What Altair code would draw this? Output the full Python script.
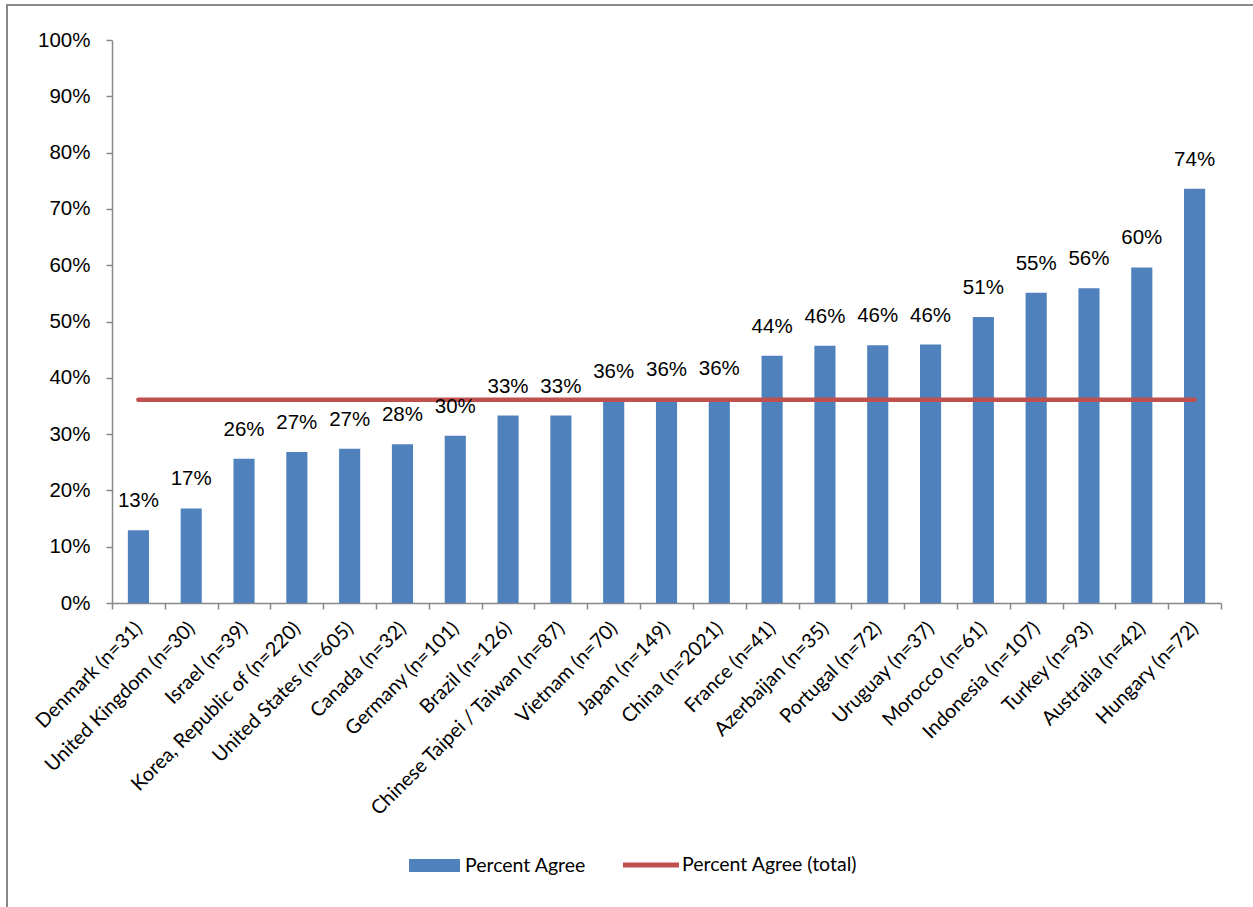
import altair as alt
import pandas as pd

# Share of respondents who agree, by country (sorted ascending)
countries = [
    "Denmark (n=31)",
    "United Kingdom (n=30)",
    "Israel (n=39)",
    "Korea, Republic of (n=220)",
    "United States (n=605)",
    "Canada (n=32)",
    "Germany (n=101)",
    "Brazil (n=126)",
    "Chinese Taipei / Taiwan (n=87)",
    "Vietnam (n=70)",
    "Japan (n=149)",
    "China (n=2021)",
    "France (n=41)",
    "Azerbaijan (n=35)",
    "Portugal (n=72)",
    "Uruguay (n=37)",
    "Morocco (n=61)",
    "Indonesia (n=107)",
    "Turkey (n=93)",
    "Australia (n=42)",
    "Hungary (n=72)",
]
percent_agree = [
    0.129, 0.168, 0.256, 0.268, 0.274, 0.282, 0.297, 0.333, 0.333, 0.359,
    0.363, 0.364, 0.439, 0.457, 0.458, 0.459, 0.508, 0.551, 0.559, 0.596, 0.736,
]
percent_agree_total = 0.361

bar_name = "Percent Agree"
line_name = "Percent Agree (total)"

df = pd.DataFrame({
    "country": countries,
    "agree": percent_agree,
    "total": [percent_agree_total] * len(countries),
    "bar_series": [bar_name] * len(countries),
    "line_series": [line_name] * len(countries),
})

AXIS_GRAY = "#888888"
BLUE = "#4f81bd"
RED = "#c0504d"

x_enc = alt.X(
    "country:N",
    sort=countries,
    scale=alt.Scale(paddingInner=0, paddingOuter=0),
    axis=alt.Axis(
        title=None,
        labelAngle=-45,
        labelAlign="right",
        labelBaseline="middle",
        labelFont="Lato",
        labelFontSize=19.8,
        labelColor="#000000",
        labelPadding=16,
        labelLimit=500,
        labelOverlap=False,
        tickBand="extent",
        tickSize=6,
        tickColor=AXIS_GRAY,
        domainColor=AXIS_GRAY,
        tickWidth=1.5,
        domainWidth=1.5,
    ),
)

y_axis = alt.Axis(
    title=None,
    format=".0%",
    values=[i / 10 for i in range(11)],
    grid=False,
    labelFont="Liberation Sans",
    labelFontSize=20.5,
    labelColor="#000000",
    labelPadding=16,
    tickSize=6,
    tickColor=AXIS_GRAY,
    domainColor=AXIS_GRAY,
    tickWidth=1.5,
    domainWidth=1.5,
)
y_scale = alt.Scale(domain=[0, 1])

base = alt.Chart(df)

# Outer gray frame around the chart
frame = alt.Chart(pd.DataFrame({"k": [0]})).mark_rect(
    filled=False, stroke=AXIS_GRAY, strokeWidth=2
).encode(
    x=alt.value(-105), x2=alt.value(1500),
    y=alt.value(-35), y2=alt.value(1200),
)

bars = base.mark_bar(width={"band": 0.4}).encode(
    x=x_enc,
    y=alt.Y("agree:Q", scale=y_scale, axis=y_axis),
    fill=alt.Fill(
        "bar_series:N",
        scale=alt.Scale(domain=[bar_name], range=[BLUE]),
        legend=alt.Legend(
            title=None,
            orient="none",
            legendX=297,
            legendY=800,
            padding=0,
            symbolType="M-1,-0.255L1,-0.255L1,0.255L-1,0.255Z",
            symbolSize=2601,
            symbolStrokeWidth=0,
            labelFont="Lato",
            labelFontSize=19.5,
            labelColor="#000000",
            labelOffset=5,
            labelLimit=400,
        ),
    ),
)

line = base.mark_line(strokeWidth=4.6, strokeCap="round").encode(
    x=alt.X("country:N", sort=countries, bandPosition=0.5),
    y=alt.Y("total:Q", scale=y_scale),
    stroke=alt.Stroke(
        "line_series:N",
        scale=alt.Scale(domain=[line_name], range=[RED]),
        legend=alt.Legend(
            title=None,
            orient="none",
            legendX=511,
            legendY=797,
            padding=0,
            symbolType="M-1,-0.09L1,-0.09L1,0.09L-1,0.09Z",
            symbolSize=3136,
            symbolStrokeWidth=0,
            symbolFillColor=RED,
            labelFont="Lato",
            labelFontSize=19.5,
            labelColor="#000000",
            labelOffset=3,
            labelLimit=400,
        ),
    ),
)

labels = base.mark_text(
    baseline="alphabetic", dy=-23, font="Liberation Sans", fontSize=20.5, color="#000000"
).encode(
    x=alt.X("country:N", sort=countries),
    y=alt.Y("agree:Q", scale=y_scale),
    text=alt.Text("agree:Q", format=".0%"),
)

chart = (
    alt.layer(frame, bars, line, labels)
    .properties(
        width=1109,
        height=563,
        autosize=alt.AutoSizeParams(type="none"),
        padding={"left": 112, "top": 40, "right": 32, "bottom": 304},
        background="#ffffff",
    )
    .configure_view(strokeWidth=0)
)

chart.save("out.html", embed_options={"renderer": "svg", "actions": False})
